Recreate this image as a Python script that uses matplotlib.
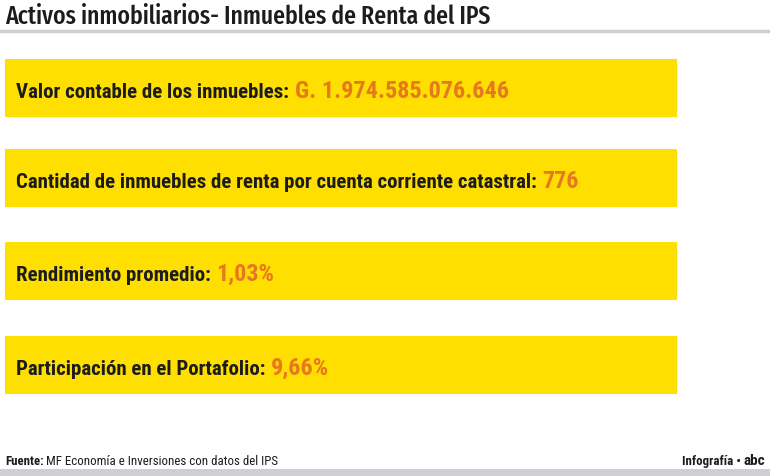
import matplotlib
matplotlib.use("Agg")
import matplotlib.pyplot as plt

# data
title = "Activos inmobiliarios- Inmuebles de Renta del IPS"
labels = [
    "Valor contable de los inmuebles:",
    "Cantidad de inmuebles de renta por cuenta corriente catastral:",
    "Rendimiento promedio:",
    "Participación en el Portafolio:",
]
values = ["G. 1.974.585.076.646", "776", "1,03%", "9,66%"]
source_label = "Fuente:"
source_text = "MF Economía e Inversiones con datos del IPS"
credit = "Infografía •"
logo = "abc"

# layout (pixels)
W, H = 770, 477
box_left, box_right = 5, 677
box_centers = [89, 179, 272, 366]
box_height = 58

YELLOW = "#ffdf00"
ORANGE = "#e8781e"
DARK = "#1c1c1c"
GREY = "#cfcfd3"

plt.rcParams['font.family'] = ['Roboto Condensed', 'DejaVu Sans']
plt.rcParams['font.stretch'] = 'condensed'

fig = plt.figure(figsize=(W / 100, H / 100), dpi=100)
ax = fig.add_axes([0, 0, 1, 1])
ax.set_xlim(0, W)
ax.set_ylim(H, 0)
ax.axis('off')

# title + rule
ax.text(5, 23.5, title, fontsize=18.5, color=DARK, va='baseline', ha='left',
        family=['Fira Sans Extra Condensed', 'Roboto Condensed', 'DejaVu Sans'],
        fontweight='medium')
ax.axhline(32, color=GREY, lw=2.5)

# yellow boxes
ax.barh(box_centers, box_right - box_left, left=box_left, height=box_height,
        color=YELLOW, edgecolor='none')

for y, lab, val in zip(box_centers, labels, values):
    base = y + 9
    t = ax.text(16, base, lab, fontsize=15, fontweight='bold', color=DARK,
                va='baseline', ha='left')
    ax.annotate(val, xy=(1, base), xycoords=(t, 'data'),
                xytext=(4, 0), textcoords='offset points', fontsize=17.5,
                fontweight='bold', color=ORANGE, va='baseline', ha='left')

# footer
src = ax.text(5, 465, source_label, fontsize=9.3, fontweight='bold',
              color=DARK, va='baseline', ha='left')
ax.annotate(source_text, xy=(1, 465), xycoords=(src, 'data'),
            xytext=(2, 0), textcoords='offset points', fontsize=9.3,
            color=DARK, va='baseline', ha='left')
lg = ax.text(765, 465, logo, fontsize=11, fontweight='heavy', color=DARK,
             va='baseline', ha='right')
ax.annotate(credit, xy=(0, 465), xycoords=(lg, 'data'),
            xytext=(-2, 0), textcoords='offset points', fontsize=9.3,
            fontweight='bold', color=DARK, va='baseline', ha='right')
ax.axhspan(469.5, H, color=GREY, lw=0)

fig.savefig("out.png", dpi=100)
